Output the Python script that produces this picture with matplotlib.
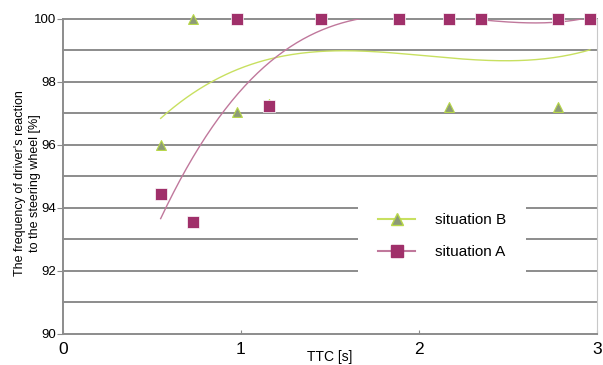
import matplotlib.pyplot as plt
import numpy as np

plt.rcParams["font.family"] = ["Liberation Sans", "DejaVu Sans"]

# TTC values shared by both situations
ttc = [0.55, 0.73, 0.98, 1.16, 1.45, 1.89, 2.17, 2.35, 2.78, 2.96]
# situation A (squares)
freq_a = [94.45, 93.55, 100.0, 97.25, 100.0, 100.0, 100.0, 100.0, 100.0, 100.0]
# situation B (triangles), several hidden under the squares at 100 %
freq_b = [96.0, 100.0, 97.05, 97.3, 100.0, 100.0, 97.2, 100.0, 97.2, 100.0]

yticks = [90, 92, 94, 96, 98, 100]
xticks = [0, 1, 2, 3]

COL_A = "#a0306a"
COL_A_LINE = "#c0789c"
COL_B_LINE = "#c8e060"
COL_B_EDGE = "#b8d848"
COL_B_FILL = "#8c9a78"
GRID = "#8c8c8c"


def trend(x, y, deg=3):
    coef = np.polyfit(x, y, deg)
    xs = np.linspace(min(x), max(x), 200)
    return xs, np.polyval(coef, xs)


fig = plt.figure(figsize=(6.03, 3.65), dpi=100)
ax = fig.add_axes([0.104, 0.085, 0.886, 0.863])

for yv in np.arange(91, 101, 1):
    ax.axhline(yv, color=GRID, lw=1.4, zorder=0, clip_on=False)

xs, ys = trend(ttc, freq_b)
ax.plot(xs, ys, color=COL_B_LINE, lw=1.0, zorder=2)
xs, ys = trend(ttc, freq_a)
ax.plot(xs, ys, color=COL_A_LINE, lw=1.0, zorder=2)

ax.scatter(ttc, freq_b, marker="^", s=50, color=COL_B_FILL,
           edgecolors=COL_B_EDGE, linewidths=0.8, zorder=3, clip_on=False)
ax.scatter(ttc, freq_a, marker="s", s=64, color=COL_A,
           edgecolors="white", linewidths=0.5, zorder=4, clip_on=False)

ax.set_xlim(0, 3)
ax.set_ylim(90, 100)
ax.set_xticks(xticks)
ax.set_yticks(yticks)
ax.tick_params(axis="x", labelsize=12.5, color=GRID, length=3,
               direction="in", pad=6)
ax.tick_params(axis="y", labelsize=9.5, color=GRID, length=4, pad=1)
ax.spines["top"].set_visible(False)
ax.spines["right"].set_color("#c8c8c8")
ax.spines["right"].set_linewidth(0.8)
for side in ("left", "bottom"):
    ax.spines[side].set_color(GRID)
    ax.spines[side].set_linewidth(1.4)

ax.set_ylabel("The frequency of driver's reaction\nto the steering wheel [%]",
              fontsize=9, linespacing=1.35)
ax.yaxis.set_label_coords(-0.041, 0.48)
ax.set_xlabel("TTC [s]", fontsize=10)
ax.xaxis.set_label_coords(0.5, -0.05)

hb, = ax.plot([], [], color=COL_B_LINE, marker="^", markersize=9,
              markerfacecolor=COL_B_FILL, markeredgecolor=COL_B_EDGE)
ha, = ax.plot([], [], color=COL_A_LINE, marker="s", markersize=8,
              markerfacecolor=COL_A, markeredgecolor=COL_A)
leg = ax.legend([hb, ha], ["situation B", "situation A"],
                loc="center", bbox_to_anchor=(0.71, 0.31), frameon=True,
                fontsize=11, handlelength=2.4, handletextpad=1.3,
                labelspacing=1.2, borderpad=1.3)
leg.get_frame().set_facecolor("white")
leg.get_frame().set_edgecolor("none")
leg.get_frame().set_alpha(1)

fig.savefig("out.png", dpi=100)
